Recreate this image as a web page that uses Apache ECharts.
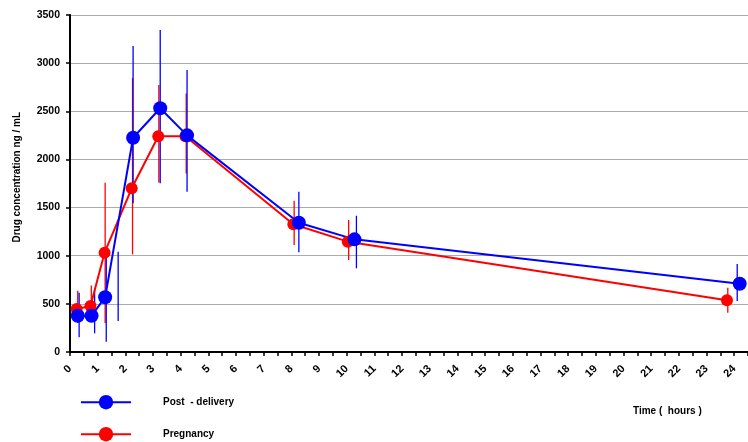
<!DOCTYPE html>
<html>
<head>
    <meta charset="utf-8">
    <title>Drug concentration</title>
    <style>
        body { margin: 0; background: #fff; }
    </style>
</head>
<body>
        <div id="main" style="width: 748px;height:442px;"></div>
</body>
<script src="https://cdn.jsdelivr.net/npm/echarts@6/dist/echarts.min.js"></script>
<script>
// time (hours) and concentration (ng/mL)
var postTime = [0.28, 0.78, 1.27, 2.28, 3.26, 4.23, 8.27, 10.28, 24.2];
var postConc = [377, 377, 568, 2225, 2531, 2250, 1343, 1170, 709];
var pregTime = [0.24, 0.74, 1.25, 2.23, 3.19, 4.17, 8.07, 10.04, 23.74];
var pregConc = [446, 478, 1031, 1700, 2240, 2240, 1326, 1146, 537];

// error bars: [time, low, high]
var postBars = [
    [0.33, 152, 616], [0.89, 194, 661], [1.31, 107, 1030], [1.74, 322, 1041],
    [2.28, 1544, 3178], [3.26, 1752, 3344], [4.23, 1665, 2928],
    [8.27, 1035, 1665], [10.35, 869, 1415], [24.11, 530, 914]
];
var pregBars = [
    [0.28, 300, 636], [0.77, 380, 690], [1.27, 300, 1758], [2.26, 1014, 2845],
    [3.21, 1760, 2772], [4.20, 1855, 2686],
    [8.10, 1111, 1571], [10.07, 955, 1371], [23.77, 408, 668]
];

var yTicks = { min: 0, max: 3500, interval: 500 };
var xTicks = { min: 0, max: 24.5, interval: 0.5 };

function pairs(xs, ys) {
    return xs.map(function (x, i) { return [x, ys[i]]; });
}

function barSeries(data, color) {
    return {
        type: 'custom',
        data: data,
        encode: { x: 0, y: [1, 2] },
        silent: true,
        renderItem: function (params, api) {
            var a = api.coord([api.value(0), api.value(1)]);
            var b = api.coord([api.value(0), api.value(2)]);
            return {
                type: 'line',
                shape: { x1: a[0], y1: a[1], x2: b[0], y2: b[1] },
                style: { stroke: color, lineWidth: 1.3 }
            };
        }
    };
}

var font = 'Liberation Sans, Arial, sans-serif';

function legendAt(name, top) {
    return {
        left: 80,
        top: top,
        padding: 0,
        itemWidth: 50,
        itemHeight: 18,
        data: [name],
        textStyle: { fontFamily: font, fontWeight: 'bold', fontSize: 10, color: '#000', padding: [0, 0, 0, 27] }
    };
}

var myChart = echarts.init(document.getElementById('main'));

myChart.setOption({
    animation: false,
    textStyle: { fontFamily: font },
    grid: { left: 70, right: -3, top: 15, bottom: 90 },
    legend: [legendAt('Post  - delivery', 395), legendAt('Pregnancy', 427)],
    xAxis: [{
        type: 'value',
        min: xTicks.min, max: xTicks.max, interval: xTicks.interval,
        axisLine: { lineStyle: { color: '#000', width: 2 } },
        axisTick: { length: 4, lineStyle: { color: '#000', width: 1.5 } },
        splitLine: { show: false },
        axisLabel: {
            rotate: 45, margin: 15, color: '#000', fontWeight: 'bold', fontSize: 11,
            showMaxLabel: false,
            formatter: function (v) { return v % 1 === 0 ? String(v) : ''; }
        }
    }, {
        type: 'value',
        min: xTicks.min, max: xTicks.max, interval: xTicks.interval,
        axisLine: { show: false },
        axisTick: { inside: true, length: 4, lineStyle: { color: '#000', width: 1.5 } },
        splitLine: { show: false },
        axisLabel: { show: false }
    }],
    yAxis: [{
        type: 'value',
        min: yTicks.min, max: yTicks.max, interval: yTicks.interval,
        axisLine: { show: true, lineStyle: { color: '#000', width: 2 } },
        axisTick: { show: true, length: 4, lineStyle: { color: '#000', width: 1.5 } },
        splitLine: { lineStyle: { color: '#ababab', width: 1 } },
        axisLabel: {
            margin: 10, color: '#000', fontWeight: 'bold', fontSize: 10.5,
            formatter: function (v) { return String(v); }
        }
    }, {
        type: 'value',
        min: yTicks.min, max: yTicks.max, interval: yTicks.interval,
        axisLine: { show: false },
        axisTick: { show: true, inside: true, length: 4, lineStyle: { color: '#000', width: 1.5 } },
        splitLine: { show: false },
        axisLabel: { show: false }
    }],
    graphic: [{
        type: 'text',
        left: 12, top: 112,
        rotation: Math.PI / 2,
        style: { text: 'Drug concentration ng / mL', fill: '#000', font: 'bold 10px ' + font }
    }, {
        type: 'text',
        left: 633, top: 406,
        style: { text: 'Time (  hours )', fill: '#000', font: 'bold 10px ' + font }
    }],
    series: [
        barSeries(pregBars, '#ff0000'),
        {
            name: 'Pregnancy',
            type: 'line',
            data: pairs(pregTime, pregConc),
            symbol: 'circle',
            symbolSize: 12,
            itemStyle: { color: '#ff0000' },
            lineStyle: { color: '#ff0000', width: 2 }
        },
        barSeries(postBars, '#0000ff'),
        {
            name: 'Post  - delivery',
            type: 'line',
            data: pairs(postTime, postConc),
            symbol: 'circle',
            symbolSize: 14,
            itemStyle: { color: '#0000ff' },
            lineStyle: { color: '#0000ff', width: 2 }
        }
    ]
});
</script>
</html>
